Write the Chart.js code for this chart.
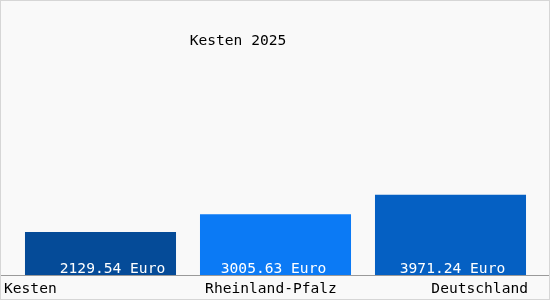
<!DOCTYPE html>
<html>
<head>
<meta charset="utf-8">
<script src="https://cdn.jsdelivr.net/npm/chart.js@4/dist/chart.umd.min.js"></script>
<style>
  html, body { margin: 0; padding: 0; background: #fff; }
  #wrap { width: 550px; height: 300px; }
</style>
</head>
<body>
<div id="wrap"><canvas id="chart" width="550" height="300"></canvas></div>
<script>
const title = "Kesten 2025"
const regions = ["Kesten", "Rheinland-Pfalz", "Deutschland"]
const values = [2129.54, 3005.63, 3971.24]
const barColors = ["#054b98", "#0b7af5", "#0560c3"]
const unit = "Euro"

const FONT = "14.6px 'DejaVu Sans Mono', monospace"

// background, frame, baseline and all the texts
const decor = {
  id: "decor",
  beforeDraw(chart) {
    const ctx = chart.ctx
    ctx.save()
    ctx.fillStyle = "#f9f9f9"
    ctx.fillRect(0, 0, chart.width, chart.height)
    ctx.strokeStyle = "#d6d6d6"
    ctx.lineWidth = 1
    ctx.strokeRect(0.5, 0.5, chart.width - 1, chart.height - 1)
    ctx.restore()
  },
  afterDatasetsDraw(chart) {
    const ctx = chart.ctx
    const area = chart.chartArea
    const meta = chart.getDatasetMeta(0)
    ctx.save()
    ctx.font = FONT
    ctx.textBaseline = "alphabetic"

    // value labels inside the bars
    ctx.fillStyle = "#ffffff"
    ctx.textAlign = "center"
    const offsets = [12, -2, 2]
    meta.data.forEach((bar, i) => {
      const txt = values[i].toFixed(2) + " " + unit
      ctx.fillText(txt, bar.x + offsets[i], area.bottom - 2)
    })

    // baseline
    ctx.strokeStyle = "#9a9a9a"
    ctx.beginPath()
    ctx.moveTo(1, Math.round(area.bottom) + 0.5)
    ctx.lineTo(chart.width - 1, Math.round(area.bottom) + 0.5)
    ctx.stroke()

    // category labels
    ctx.fillStyle = "#000000"
    const y = area.bottom + 18
    ctx.textAlign = "left"
    ctx.fillText(regions[0], 4, y)
    ctx.textAlign = "center"
    ctx.fillText(regions[1], 271, y)
    ctx.textAlign = "right"
    ctx.fillText(regions[2], 528, y)

    // title
    ctx.textAlign = "center"
    ctx.fillText(title, 238, 45)
    ctx.restore()
  }
}

new Chart(document.getElementById("chart"), {
  type: "bar",
  data: {
    labels: regions,
    datasets: [{
      data: values,
      backgroundColor: barColors,
      borderWidth: 0,
      barPercentage: 0.863,
      categoryPercentage: 1
    }]
  },
  options: {
    responsive: false,
    animation: false,
    layout: { padding: { top: 73, bottom: 25, left: 13, right: 12 } },
    plugins: { legend: { display: false }, tooltip: { enabled: false } },
    scales: {
      x: { display: false },
      y: { display: false, min: 0, max: 10000 }
    }
  },
  plugins: [decor]
})
</script>
</body>
</html>
